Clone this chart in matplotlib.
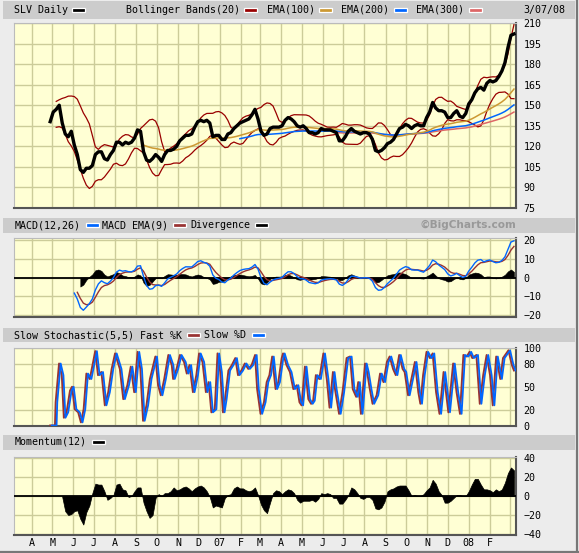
import numpy as np
import pandas as pd
import matplotlib
matplotlib.use('Agg')
import matplotlib.pyplot as plt
import matplotlib.transforms as mtransforms
from matplotlib.patches import Rectangle

# ---------------- data ----------------
start_date = '2006-04-28'
end_date = '2008-03-07'
close = [138, 145, 147, 150, 137, 129, 127, 131, 121, 114,
         103, 101, 104, 104, 106, 114, 116, 116, 111, 110,
         114, 117, 123, 123, 121, 123, 122, 123, 126, 132,
         131, 116, 110, 109, 111, 114, 112, 109, 114, 117,
         117, 118, 120, 124, 126, 128, 128, 129, 134, 138,
         139, 138, 139, 137, 127, 128, 128, 125, 125, 129,
         130, 133, 135, 137, 138, 139, 140, 143, 147, 140,
         131, 128, 129, 133, 134, 134, 134, 135, 139, 141,
         140, 138, 135, 134, 135, 133, 130, 130, 129, 130,
         133, 132, 132, 132, 131, 130, 124, 124, 127, 131,
         133, 131, 130, 129, 130, 130, 129, 125, 117, 116,
         117, 119, 122, 123, 125, 129, 133, 134, 136, 135,
         133, 135, 136, 135, 135, 141, 145, 152, 148, 146,
         146, 145, 141, 141, 144, 146, 142, 141, 144, 151,
         154, 159, 162, 163, 161, 166, 168, 167, 168, 171,
         175, 181, 192, 201, 202]

# Slow stochastic turning points: calendar days after start_date, Fast %K value
stoch_day = [0, 7, 8, 13, 17, 20, 24, 29, 32, 36, 41, 45, 49, 53, 58, 66, 70, 75, 80, 85,
             90, 95, 102, 107, 113, 118, 123, 128, 132, 136, 141, 146, 154, 158, 162, 167,
             173, 178, 180, 185, 190, 196, 200, 204, 209, 214, 218, 223, 228, 232, 236,
             241, 245, 249, 253, 256, 261, 266, 271, 275, 280, 285, 290, 295, 300, 303,
             308, 313, 317, 321, 325, 330, 334, 339, 341, 346, 351, 356, 361, 365, 368,
             373, 378, 382, 385, 389, 394, 400, 405, 409, 414, 417, 423, 428, 434, 439,
             443, 448, 451, 455, 461, 464, 468, 472, 478, 483, 488, 493, 497, 502, 506,
             511, 516, 519, 524, 528, 534, 539, 542, 546, 551, 556, 560, 565, 570, 576,
             579, 583, 590, 595, 600, 605, 610, 614, 618, 624, 629, 634, 639, 644, 648,
             653, 659, 663, 671, 676, 679]
fast_k = [0, 0, 30, 80, 65, 10, 17, 45, 50, 21, 17, 4, 21, 67, 60, 96, 65, 69, 26, 43,
          73, 93, 73, 34, 52, 76, 43, 95, 73, 6, 26, 60, 89, 52, 39, 60,
          91, 78, 60, 73, 91, 82, 67, 78, 43, 65, 93, 82, 43, 56, 17,
          21, 93, 69, 17, 34, 71, 78, 87, 65, 71, 80, 73, 78, 91, 47,
          15, 30, 56, 65, 89, 47, 56, 87, 93, 78, 69, 47, 52, 30, 26,
          76, 34, 28, 32, 65, 60, 93, 60, 23, 69, 47, 15, 43, 87, 89,
          47, 37, 56, 15, 80, 69, 47, 28, 39, 67, 56, 82, 89, 73, 65,
          91, 73, 69, 39, 56, 82, 43, 28, 65, 95, 87, 93, 43, 15, 69,
          47, 17, 80, 43, 15, 91, 89, 95, 87, 91, 28, 65, 91, 65, 26,
          89, 60, 87, 97, 78, 71]

month_labels = ['A', 'M', 'J', 'J', 'A', 'S', 'O', 'N', 'D', '07', 'F', 'M',
                'A', 'M', 'J', 'J', 'A', 'S', 'O', 'N', 'D', '08', 'F', '']
main_ticks = [75, 90, 105, 120, 135, 150, 165, 180, 195, 210]
macd_ticks = [-20, -10, 0, 10, 20]
stoch_ticks = [0, 20, 50, 80, 100]
mom_ticks = [-40, -20, 0, 20, 40]

# ---------------- indicators (periods in samples of ~3 trading days) ----------------
dates = pd.date_range(start_date, end_date, periods=len(close))
s = pd.Series(close, index=dates, dtype=float)
mid = s.rolling(7, min_periods=3).mean()
sd = s.rolling(7, min_periods=3).std(ddof=1)
bb_up = (mid + 2 * sd).rolling(2, min_periods=1).mean()
bb_lo = (mid - 2 * sd).rolling(2, min_periods=1).mean()
ema100 = s.ewm(span=32, adjust=True).mean()
ema200 = s.ewm(span=64, adjust=True).mean()
ema300 = s.ewm(span=96, adjust=True).mean()
ema100[:31] = np.nan
ema200[:63] = np.nan
ema300[:95] = np.nan
macd = s.ewm(span=3, adjust=False).mean() - s.ewm(span=13, adjust=False).mean()
signal = macd.ewm(span=4, adjust=False).mean()
div = macd - signal
macd[:8] = np.nan
signal[:9] = np.nan
div[:10] = np.nan
mom = s - s.shift(4)

stoch_dates = pd.to_datetime(start_date) + pd.to_timedelta(stoch_day, unit='D')
month_dates = pd.date_range('2006-04-01', '2008-03-01', freq='MS')

# ---------------- layout ----------------
W, H = 579, 553
fig = plt.figure(figsize=(W / 100, H / 100), dpi=100)
fig.patch.set_facecolor('#ECECEC')

BG = '#FFFFD4'
GRID = '#CCCC99'
MONO = 'DejaVu Sans Mono'
FS = 7.2
xlim = (pd.Timestamp('2006-03-06'), pd.Timestamp('2008-03-10'))


def rect(x0, y0, x1, y1):
    return [x0 / W, 1 - y1 / H, (x1 - x0) / W, (y1 - y0) / H]


def band(y0, y1):
    fig.patches.append(Rectangle((3 / W, 1 - y1 / H), 572 / W, (y1 - y0) / H,
                                 transform=fig.transFigure, facecolor='#CCCCCC',
                                 edgecolor='none', zorder=0))


def ftext(x, y, txt, **kw):
    fig.text(x / W, 1 - y / H, txt, va='center', ha='left', family=MONO,
             fontsize=FS, **kw)


def swatch(x, y, color):
    fig.patches.append(Rectangle((x / W, 1 - (y + 2) / H), 13 / W, 4 / H,
                                 transform=fig.transFigure, facecolor=color,
                                 edgecolor='white', lw=0.9, zorder=3))


def style(ax, ticks, ylim):
    ax.set_facecolor(BG)
    ax.set_xlim(*xlim)
    ax.set_ylim(*ylim)
    ax.set_xticks(month_dates)
    ax.set_yticks(ticks)
    ax.yaxis.tick_right()
    ax.tick_params(axis='y', length=0, pad=5.5, labelsize=FS)
    ax.tick_params(axis='x', length=0, labelbottom=False)
    for lab in ax.get_yticklabels():
        lab.set_family(MONO)
    ax.grid(True, color=GRID, lw=1.0, zorder=0)
    ax.set_axisbelow(True)
    for side in ('left', 'top'):
        ax.spines[side].set_color('#BBBBBB')
        ax.spines[side].set_linewidth(0.8)
    for side in ('right', 'bottom'):
        ax.spines[side].set_color('#555555')
        ax.spines[side].set_linewidth(1.5)


# header bands
band(1, 19)
band(218, 232.5)
band(328, 342)
band(435, 450)

# ---- main price panel
ax1 = fig.add_axes(rect(14, 23, 516, 208))
style(ax1, main_ticks, (75, 210))
ax1.plot(dates, bb_up, color='#990000', lw=0.9, zorder=3)
ax1.plot(dates, bb_lo, color='#990000', lw=0.9, zorder=3)
ax1.plot(dates, ema300, color='#DD6666', lw=1.1, zorder=3)
ax1.plot(dates, ema200, color='#0066FF', lw=1.1, zorder=3)
ax1.plot(dates, ema100, color='#CC9933', lw=1.1, zorder=3)
ax1.plot(dates, s, color='black', lw=2.4, zorder=4)

ftext(14.5, 10, 'SLV Daily')
swatch(72, 10, 'black')
ftext(125.5, 10, 'Bollinger Bands(20)')
swatch(244, 10, '#990000')
ftext(266.5, 10, 'EMA(100)')
swatch(319, 10, '#CC9933')
ftext(341.5, 10, 'EMA(200)')
swatch(394, 10, '#0066FF')
ftext(416, 10, 'EMA(300)')
swatch(469, 10, '#DD6666')
ftext(523.5, 10, '3/07/08')

# ---- MACD panel
ax2 = fig.add_axes(rect(14, 238, 516, 317))
style(ax2, macd_ticks, (-20.9, 20.9))
ax2.axhline(0, color='black', lw=1.3, zorder=3)
ax2.fill_between(dates, 0, div, color='black', lw=0.4, zorder=3)
ax2.plot(dates, signal, color='#993333', lw=1.0, zorder=4)
ax2.plot(dates, macd, color='#0066FF', lw=1.0, zorder=4)

ftext(14.5, 225, 'MACD(12,26)')
swatch(86, 225, '#0066FF')
ftext(102.5, 225, 'MACD EMA(9)')
swatch(173.5, 225, '#993333')
ftext(190, 225, 'Divergence')
swatch(255, 225, 'black')
fig.text(516 / W, 1 - 225 / H, '\u00a9BigCharts.com', va='center', ha='right',
         family='DejaVu Sans', fontsize=7.6, fontweight='bold', color='#999999')

# ---- Stochastic panel
ax3 = fig.add_axes(rect(14, 348, 516, 425.5))
style(ax3, stoch_ticks, (0, 100))
ax3.plot(stoch_dates, fast_k, color='#993333', lw=1.4, zorder=3)
lag = mtransforms.offset_copy(ax3.transData, fig=fig, x=1.6, y=0, units='dots')
ax3.plot(stoch_dates, fast_k, color='#0066FF', lw=1.3, zorder=4, transform=lag)

ftext(14.5, 335, 'Slow Stochastic(5,5) Fast %K')
swatch(186.5, 335, '#993333')
ftext(204, 335, 'Slow %D')
swatch(252, 335, '#0066FF')

# ---- Momentum panel
ax4 = fig.add_axes(rect(14, 457, 516, 535))
style(ax4, mom_ticks, (-41, 41))
ax4.axhline(0, color='black', lw=1.3, zorder=3)
ax4.fill_between(dates, 0, mom, color='black', lw=0.5, zorder=3)
ax4.tick_params(axis='x', labelbottom=True, pad=2.5, labelsize=FS)
ax4.set_xticklabels(month_labels, family=MONO)

ftext(14.5, 442, 'Momentum(12)')
swatch(91.5, 442, 'black')

# figure border (right / bottom shadow)
fig.add_artist(plt.Line2D([576.5 / W, 576.5 / W], [0, 1], transform=fig.transFigure,
                          color='#777777', lw=1.6))
fig.add_artist(plt.Line2D([0, 1], [1 - 551.5 / H, 1 - 551.5 / H], transform=fig.transFigure,
                          color='#777777', lw=1.6))

fig.savefig('out.png', dpi=100, facecolor=fig.get_facecolor())
